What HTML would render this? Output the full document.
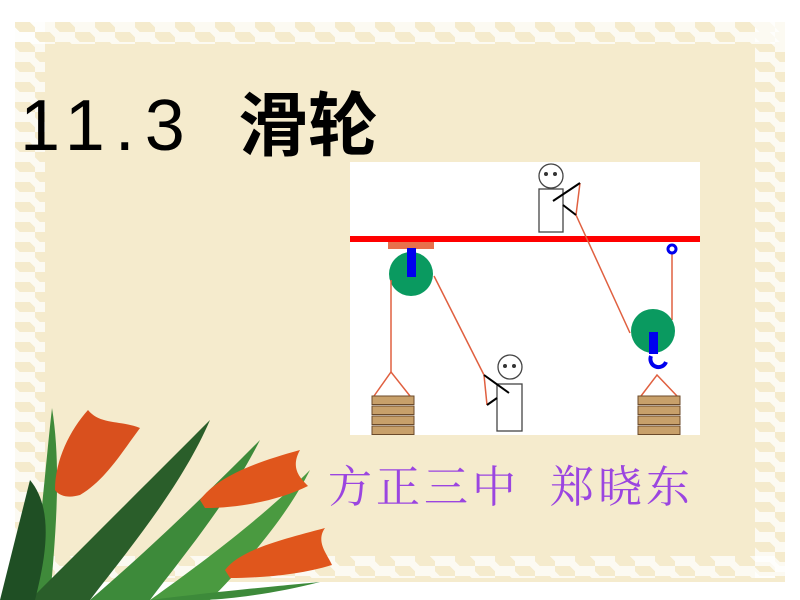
<!DOCTYPE html>
<html><head><meta charset="utf-8"><style>
html,body{margin:0;padding:0;}
body{width:800px;height:600px;position:relative;overflow:hidden;background:#fff;}
.cream{position:absolute;left:15px;top:22px;width:770px;height:560px;background:#f5ebcd;}
.band{position:absolute;background-image:linear-gradient(45deg,rgba(255,255,255,.75) 25%,transparent 25%,transparent 75%,rgba(255,255,255,.75) 75%),linear-gradient(45deg,rgba(255,255,255,.75) 25%,transparent 25%,transparent 75%,rgba(255,255,255,.75) 75%);background-size:40px 20px;background-position:0 0,20px 10px;}
.t{position:absolute;font-family:"Liberation Sans","Noto Sans CJK SC",sans-serif;color:#000;line-height:1;}
</style></head><body>
<div class="cream"></div>
<div class="band" style="left:15px;top:22px;width:770px;height:22px;"></div>
<div class="band" style="left:15px;top:556px;width:770px;height:22px;"></div>
<div class="band" style="left:15px;top:22px;width:30px;height:556px;"></div>
<div class="band" style="left:755px;top:22px;width:30px;height:556px;"></div>
<div class="cream" style="left:45px;top:44px;width:710px;height:512px;"></div>

<div class="t" style="left:20px;top:90px;font-size:72px;letter-spacing:10px;">11.3</div>
<div class="t" style="left:238px;top:91px;font-size:70px;font-weight:bold;">滑轮</div>
<div class="t" style="left:328px;top:466px;font-size:44px;letter-spacing:4px;color:#9b45e0;font-family:'Liberation Serif','Noto Serif CJK SC',serif;white-space:pre;">方正三中  郑晓东</div>

<svg style="position:absolute;left:0;top:0" width="800" height="600">
<rect x="350" y="162" width="350" height="273" fill="#fff"/>
<rect x="350" y="236" width="350" height="6" fill="#f00"/>
<rect x="388" y="242" width="46" height="7" fill="#e8704c"/>
<circle cx="411" cy="274" r="22" fill="#0a9a60"/>
<rect x="407" y="248" width="9" height="29" fill="#0000ee"/>
<g stroke="#e06040" stroke-width="1.5" fill="none">
<line x1="391" y1="280" x2="391" y2="372"/>
<polyline points="374,396 391,372 410,396"/>
<line x1="434" y1="276" x2="484" y2="375"/>
<line x1="484" y1="375" x2="487" y2="405"/>
<line x1="580" y1="183" x2="576" y2="215"/>
<line x1="576" y1="215" x2="630" y2="333"/>
<line x1="672" y1="252" x2="672" y2="320"/>
<polyline points="641,396 657,375 677,396"/>
</g>
<circle cx="672" cy="249" r="4" fill="none" stroke="#0000ee" stroke-width="3"/>
<circle cx="653" cy="331" r="22" fill="#0a9a60"/>
<rect x="649" y="332" width="9" height="22" fill="#0000ee"/>
<path d="M651,356 A8,8 0 1 0 666,362" fill="none" stroke="#0000ee" stroke-width="4"/>
<g fill="#c8a06a" stroke="#6b4a2a" stroke-width="1">
<rect x="372" y="396" width="42" height="8.5"/><rect x="372" y="406" width="42" height="8.5"/><rect x="372" y="416" width="42" height="8.5"/><rect x="372" y="426" width="42" height="8.5"/>
<rect x="638" y="396" width="42" height="8.5"/><rect x="638" y="406" width="42" height="8.5"/><rect x="638" y="416" width="42" height="8.5"/><rect x="638" y="426" width="42" height="8.5"/>
</g>
<g stroke="#444" stroke-width="1.3" fill="#fff">
<circle cx="551" cy="176" r="12"/><rect x="539" y="189" width="24" height="43"/>
<circle cx="510" cy="367" r="12"/><rect x="497" y="384" width="25" height="47"/>
</g>
<g stroke="#000" stroke-width="2">
<line x1="553" y1="201" x2="580" y2="183"/><line x1="563" y1="205" x2="576" y2="215"/>
<line x1="484" y1="375" x2="509" y2="393"/><line x1="487" y1="405" x2="497" y2="398"/>
</g>
<g fill="#333"><circle cx="546" cy="174" r="2"/><circle cx="555" cy="174" r="2"/><circle cx="505" cy="366" r="2"/><circle cx="514" cy="366" r="2"/></g>

<g>
<path d="M30,600 C40,540 45,470 52,408 C62,470 55,540 50,600Z" fill="#3f8a3a"/>
<path d="M30,600 C100,530 160,470 210,420 C180,490 120,560 90,600Z" fill="#2a5e2a"/>
<path d="M90,600 C160,540 220,480 260,440 C230,500 180,560 150,600Z" fill="#3d8a3a"/>
<path d="M150,600 C220,550 270,510 310,470 C285,520 240,570 210,600Z" fill="#4a9a40"/>
<path d="M150,600 C230,590 290,585 320,582 C270,595 220,600 200,600Z" fill="#3d8a3a"/>
<path d="M0,600 C10,560 20,520 30,480 C55,510 45,560 35,600Z" fill="#1f4f24"/>
<path d="M55,490 C55,460 70,430 88,410 C100,425 120,420 140,428 C120,455 105,480 80,495 C70,498 60,497 55,490Z" fill="#d9501e"/>
<path d="M200,500 C215,480 245,465 300,450 C290,468 300,478 308,486 C280,500 240,508 205,508Z" fill="#e0561c"/>
<path d="M225,570 C240,550 280,540 325,528 C315,542 328,555 332,565 C300,575 260,578 230,578Z" fill="#e0561c"/>
</g>
</svg>
</body></html>
